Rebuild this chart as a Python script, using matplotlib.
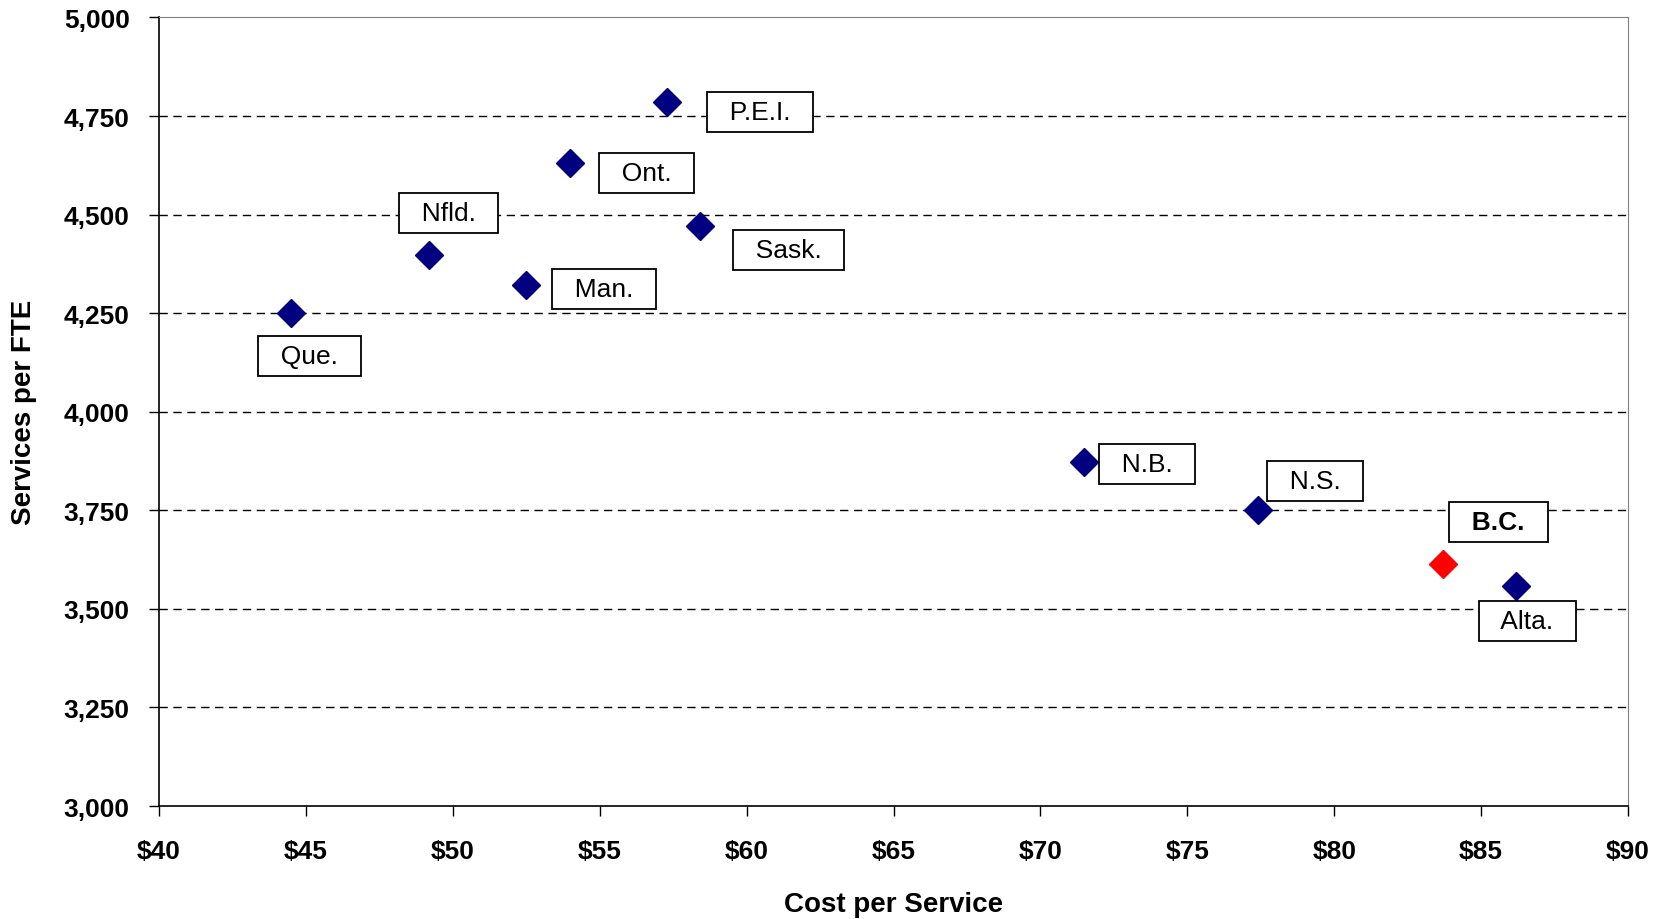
import matplotlib.pyplot as plt
from matplotlib.ticker import FuncFormatter, MultipleLocator

provinces = ["Que.", "Nfld.", "Man.", "Ont.", "P.E.I.", "Sask.", "N.B.", "N.S.", "B.C.", "Alta."]
cost = [44.5, 49.2, 52.5, 54.0, 57.3, 58.4, 71.5, 77.4, 83.7, 86.2]
services = [4250, 4398, 4322, 4630, 4786, 4470, 3872, 3750, 3615, 3558]
colors = ["#000080"] * 8 + ["#FF0000", "#000080"]

# label offsets (points) from each marker
offsets = [(13, -31), (14, 30), (56, -3), (55, -7), (67, -7),
           (64, -17), (45, -1), (41, 21), (40, 30), (8, -25)]

plt.rcParams["font.family"] = ["Liberation Sans", "DejaVu Sans"]

fig = plt.figure(figsize=(16.65, 9.2), dpi=100)
ax = fig.add_axes([0.0955, 0.1228, 0.8823, 0.8571])

for x, y, c in zip(cost, services, colors):
    ax.plot(x, y, marker="D", markersize=14.5, color=c, linestyle="none", zorder=3)

for name, x, y, off in zip(provinces, cost, services, offsets):
    ax.annotate(
        "  " + name + "  ",
        xy=(x, y),
        xytext=off,
        textcoords="offset points",
        ha="center",
        va="center",
        fontsize=19,
        fontweight="bold" if name == "B.C." else "normal",
        bbox=dict(boxstyle="square,pad=0.3", fc="white", ec="black", lw=1.3),
        zorder=4,
    )

ax.set_xlim(40, 90)
ax.set_ylim(3000, 5000)
ax.xaxis.set_major_locator(MultipleLocator(5))
ax.yaxis.set_major_locator(MultipleLocator(250))
ax.xaxis.set_major_formatter(FuncFormatter(lambda v, p: f"${v:.0f}"))
ax.yaxis.set_major_formatter(FuncFormatter(lambda v, p: f"{v:,.0f}"))

for v in range(3250, 5000, 250):
    ax.axhline(v, color="black", linestyle=(0, (6, 4)), linewidth=1, zorder=1)

ax.tick_params(axis="both", labelsize=19, direction="out", length=7, width=1)
for lab in ax.get_xticklabels() + ax.get_yticklabels():
    lab.set_fontweight("bold")
ax.tick_params(axis="x", pad=17)
ax.tick_params(axis="y", pad=14)

ax.spines["top"].set_color("#808080")
ax.spines["right"].set_color("#808080")
ax.spines["left"].set_linewidth(1.2)
ax.spines["bottom"].set_linewidth(1.2)

ax.set_xlabel("Cost per Service", fontsize=20, fontweight="bold", labelpad=20)
ax.set_ylabel("Services per FTE", fontsize=20, fontweight="bold", labelpad=19)

fig.savefig("out.png", dpi=100)
